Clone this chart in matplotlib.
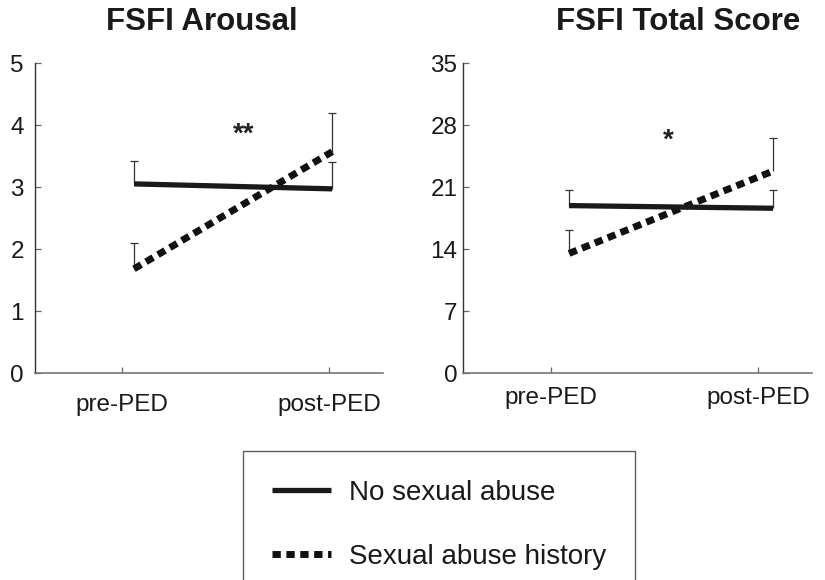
import matplotlib.pyplot as plt

plt.rcParams['font.family'] = ['Liberation Sans', 'DejaVu Sans']

# Data
phases = ['pre-PED', 'post-PED']
groups = ['No sexual abuse', 'Sexual abuse history']

arousal_no_abuse = [3.05, 2.97]
arousal_no_abuse_top = [3.42, 3.40]
arousal_abuse = [1.68, 3.57]
arousal_abuse_top = [2.09, 4.19]

total_no_abuse = [18.9, 18.6]
total_no_abuse_top = [20.7, 20.7]
total_abuse = [13.5, 22.8]
total_abuse_top = [16.2, 26.5]

fig = plt.figure(figsize=(8.25, 5.8), dpi=100)

panels = [
    dict(rect=[35/825, 1-373/580, 348/825, 310/580], title='FSFI Arousal', tx=202/825,
         yticks=[0, 1, 2, 3, 4, 5], xpos=[1.058, 2.015], xlim=(0.58, 2.26),
         no=arousal_no_abuse, no_top=arousal_no_abuse_top,
         ab=arousal_abuse, ab_top=arousal_abuse_top,
         star='**', star_xy=(1.585, 3.85), xpad=15, ypad=8),
    dict(rect=[463/825, 1-373/580, 349/825, 310/580], title='FSFI Total Score', tx=678/825,
         yticks=[0, 7, 14, 21, 28, 35], xpos=[1.087, 2.072], xlim=(0.575, 2.26),
         no=total_no_abuse, no_top=total_no_abuse_top,
         ab=total_abuse, ab_top=total_abuse_top,
         star='*', star_xy=(1.565, 26.2), xpad=10, ypad=4),
]

handles = []
for p in panels:
    ax = fig.add_axes(p['rect'])
    x = p['xpos']
    for vals, top in [(p['no'], p['no_top']), (p['ab'], p['ab_top'])]:
        up = [t - v for t, v in zip(top, vals)]
        eb = ax.errorbar(x, vals, yerr=[[0]*len(vals), up], fmt='none', ecolor='#333333',
                         elinewidth=0.9, capsize=3, capthick=0.9, zorder=1)
        eb[1][0].set_visible(False)
    l1, = ax.plot(x, p['no'], color='#1a1a1a', lw=3.8, solid_capstyle='butt', zorder=3)
    l2, = ax.plot(x, p['ab'], color='#111111', lw=5, dashes=(1.2, 0.8),
                  dash_capstyle='butt', zorder=2)
    handles = [l1, l2]

    ax.text(*p['star_xy'], p['star'], ha='center', va='center', fontsize=20,
            fontweight='bold', color='#222222')

    ax.set_xlim(*p['xlim'])
    ax.set_ylim(0, p['yticks'][-1])
    ax.set_xticks([1, 2])
    ax.set_xticklabels(phases)
    ax.set_yticks(p['yticks'])
    for s in ['top', 'right']:
        ax.spines[s].set_visible(False)
    ax.spines['left'].set_color('#333333')
    ax.spines['bottom'].set_color('#777777')
    ax.spines['left'].set_linewidth(1.0)
    ax.spines['bottom'].set_linewidth(1.2)
    ax.tick_params(axis='both', direction='in', length=4.5, width=0.9, color='#666666',
                   labelsize=17.5, labelcolor='#1a1a1a')
    ax.tick_params(axis='x', pad=p['xpad'])
    ax.tick_params(axis='y', pad=p['ypad'])

    fig.text(p['tx'], 1-22/580, p['title'], ha='center', va='center', fontsize=22.5,
             fontweight='bold', color='#1a1a1a')

leg = fig.legend(handles, groups, loc='upper left', bbox_to_anchor=(243/825, 1-451/580),
                 borderaxespad=0, frameon=True, fancybox=False, edgecolor='#333333',
                 fontsize=20, handlelength=2.1, handletextpad=0.65, labelspacing=1.35,
                 borderpad=1.05)
leg.get_frame().set_linewidth(1.0)
for t in leg.get_texts():
    t.set_color('#1a1a1a')

fig.savefig('out.png', dpi=100)
